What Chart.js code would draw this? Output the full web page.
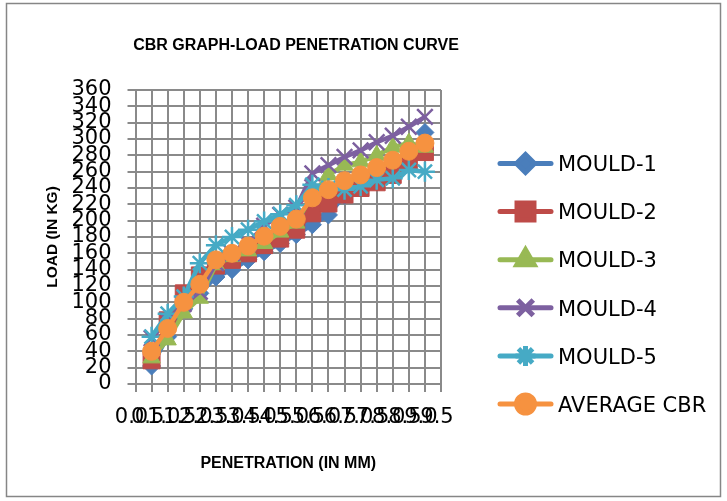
<!DOCTYPE html>
<html><head><meta charset="utf-8">
<script src="https://cdn.jsdelivr.net/npm/chart.js@4.4.0/dist/chart.umd.min.js"></script>
<style>html,body{margin:0;padding:0;background:#fff;}</style>
</head><body>
<canvas id="c" width="727" height="501" style="display:block;width:727px;height:501px"></canvas>
<script>
// ---- data ----
const penetration = [0.5,1,1.5,2,2.5,3,3.5,4,4.5,5,5.5,6,6.5,7,7.5,8,8.5,9];
const xTickValues = [0,0.5,1,1.5,2,2.5,3,3.5,4,4.5,5,5.5,6,6.5,7,7.5,8,8.5,9,9.5];
const xTickLabels = ['0.0','0.5','1.0','1.5','2.0','2.5','3.0','3.5','4.0','4.5','5.0','5.5','6.0','6.5','7.0','7.5','8.0','8.5','9.0','9.5'];
const yTickValues = [0,20,40,60,80,100,120,140,160,180,200,220,240,260,280,300,320,340,360];
const mould1 = [22,58,92,111,131,140,152,162,172,183,195,207,231,240,250,260,278,308];
const mould2 = [29,78,111,133,145,152,160,170,178,189,209,221,232,240,247,256,271,284];
const mould3 = [32,54,87,105,146,156,163,172,186,197,232,256,268,272,280,290,295,290];
const mould4 = [56,78,98,113,148,160,172,194,207,216,258,268,278,286,296,304,315,327];
const mould5 = [58,86,107,148,170,180,189,199,208,219,244,240,238,242,250,252,262,260];
const averageCbr = [40,68,100,122,152,160,169,181,193,202,228,238,249,256,265,274,285,295];
const seriesNames = ['MOULD-1','MOULD-2','MOULD-3','MOULD-4','MOULD-5','AVERAGE CBR'];

// ---- styles ----
const seriesValues = [mould1, mould2, mould3, mould4, mould5, averageCbr];
const colors = ['#4A7EBB','#BE4B48','#98B954','#7D60A0','#46AAC5','#F69240'];
const pStyles = ['rectRot','rect','triangle','crossRot','star','circle'];
const pRadius = [9,12,10,11,10,9];
const pBorder = [1,1,1,2.5,2.5,1];

const datasets = seriesValues.map((vals, i) => ({
  label: seriesNames[i],
  data: vals.map((v, j) => ({x: penetration[j], y: v})),
  borderColor: colors[i],
  backgroundColor: colors[i],
  pointBackgroundColor: colors[i],
  pointBorderColor: colors[i],
  pointStyle: pStyles[i],
  pointRadius: pRadius[i],
  pointBorderWidth: pBorder[i],
  borderWidth: 4.5,
  tension: 0,
  order: 6 - i
}));

const GRID = '#8a8a8a';
const TICKFONT = {family: 'DejaVu Sans', size: 21};

const decor = {
  id: 'decor',
  beforeDraw(chart) {
    const ctx = chart.ctx;
    ctx.save();
    ctx.fillStyle = '#fff';
    ctx.fillRect(0, 0, chart.width, chart.height);
    ctx.strokeStyle = '#868686';
    ctx.lineWidth = 1.5;
    ctx.strokeRect(6.5, 3.5, 714, 493);
    ctx.restore();
  },
  afterDraw(chart) {
    const ctx = chart.ctx;
    ctx.save();
    // title
    ctx.fillStyle = '#000';
    ctx.font = 'bold 16px "Liberation Sans"';
    ctx.textAlign = 'center';
    ctx.textBaseline = 'middle';
    ctx.fillText('CBR GRAPH-LOAD PENETRATION CURVE', 296, 46);
    // legend
    chart.data.datasets.forEach((d, i) => {
      const y = 163.5 + i * 48.1;
      ctx.strokeStyle = d.borderColor;
      ctx.lineWidth = 5;
      ctx.lineCap = 'round';
      ctx.beginPath(); ctx.moveTo(500, y); ctx.lineTo(551, y); ctx.stroke();
      ctx.fillStyle = d.pointBackgroundColor;
      ctx.strokeStyle = d.pointBorderColor;
      ctx.lineCap = 'butt';
      Chart.helpers.drawPoint(ctx, {pointStyle: d.pointStyle, radius: d.pointRadius, borderWidth: d.pointBorderWidth, rotation: 0}, 525.5, y);
      ctx.fillStyle = '#000';
      ctx.font = '21px "DejaVu Sans"';
      ctx.textAlign = 'left';
      ctx.textBaseline = 'alphabetic';
      ctx.fillText(d.label, 558, y + 7.7);
    });
    ctx.restore();
  }
};

new Chart(document.getElementById('c'), {
  type: 'line',
  data: {datasets},
  options: {
    responsive: false,
    animation: false,
    devicePixelRatio: 1,
    layout: {padding: {left: 0, top: 90, right: 286, bottom: 0}},
    plugins: {legend: {display: false}, tooltip: {enabled: false}, title: {display: false}},
    scales: {
      x: {
        type: 'linear', min: 0, max: 9.5,
        afterBuildTicks(s) { s.ticks = xTickValues.map(v => ({value: v})); },
        afterFit(s) { s.height = 117; },
        ticks: {autoSkip: false, maxRotation: 0, minRotation: 0, padding: 13, labelOffset: -4, color: '#000', font: TICKFONT,
          callback: (v, i) => xTickLabels[i]},
        grid: {color: GRID, lineWidth: 2, drawTicks: true, tickLength: 8, tickColor: GRID},
        border: {display: true, color: GRID, width: 2},
        title: {display: true, text: 'PENETRATION (IN MM)', color: '#000', font: {family: 'Liberation Sans', size: 16, weight: 'bold'}, padding: {top: 0, bottom: 28}}
      },
      y: {
        type: 'linear', min: 0, max: 360,
        afterBuildTicks(s) { s.ticks = yTickValues.map(v => ({value: v})); },
        afterFit(s) { s.width = 135.5; },
        ticks: {autoSkip: false, padding: 16, color: '#000', font: TICKFONT, callback: v => String(v)},
        grid: {color: GRID, lineWidth: 2, drawTicks: true, tickLength: 8, tickColor: GRID},
        border: {display: true, color: GRID, width: 2},
        title: {display: true, text: 'LOAD (IN KG)', color: '#000', font: {family: 'Liberation Sans', size: 15.5, weight: 'bold'}, padding: {top: 43, bottom: 0}}
      }
    }
  },
  plugins: [decor]
});
</script>
</body></html>
